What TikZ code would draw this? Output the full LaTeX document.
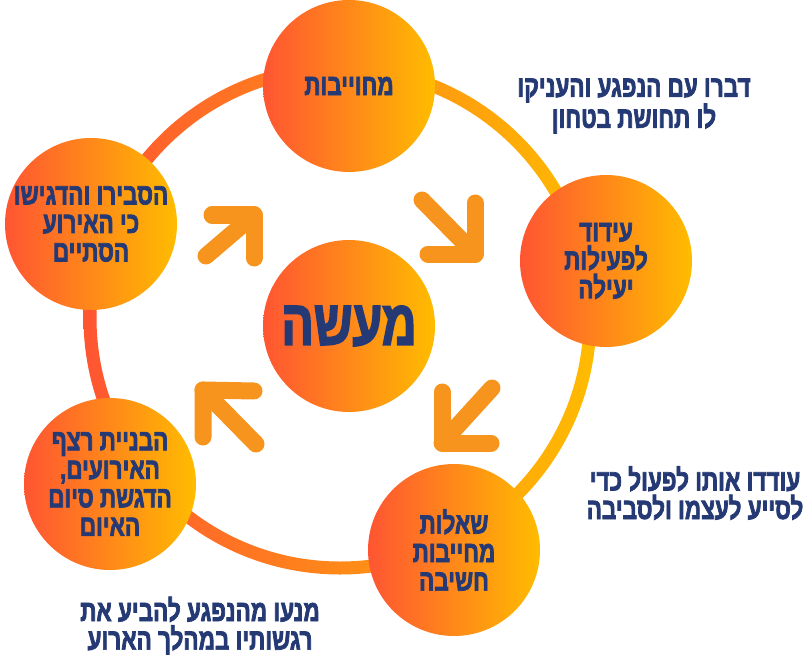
\documentclass[tikz,border=0pt]{standalone}
\usepackage{fontspec}
\usepackage{xcolor}
\usetikzlibrary{positioning}

\TeXXeTstate=1
\newfontfamily\hebfont[Script=Hebrew,FakeStretch=0.75,BoldFeatures={FakeBold=2.4}]{Liberation Sans}
\newcommand{\hebline}[1]{\beginR #1\endR}

\definecolor{navy}{RGB}{37,58,116}
\definecolor{flame}{RGB}{255,85,50}
\definecolor{amber}{RGB}{255,188,0}
\definecolor{carrot}{RGB}{247,148,29}

\tikzset{
	bubble/.style={circle, minimum size=172pt, inner sep=0pt, left color=flame, right color=amber,
		text=navy, align=center, font=\hebfont\bfseries\fontsize{30}{28.5}\selectfont},
	note/.style={inner sep=0pt, text=navy, align=center, font=\hebfont\bfseries\fontsize{30}{28.5}\selectfont},
	fat/.style={draw=carrot, line width=17pt, line cap=round, line join=round}
}

\begin{document}
\begin{tikzpicture}[x=1pt,y=-1pt]

\useasboundingbox (0,0) rectangle (808,655);

% ------------------------------------------------------
% the big ring behind the bubbles

\coordinate (ringc) at (340,318);
\path[left color=flame, right color=amber, even odd rule]
	(ringc) circle [radius=256.5pt] (ringc) circle [radius=243.5pt];

% ------------------------------------------------------
% bubbles

\node[bubble] (top) at (349,86) {\hebline{מחוייבות}};

\node[bubble] (right) at (606,261) {\hebline{עידוד}\\\hebline{לפעילות}\\\hebline{יעילה}};

\node[bubble] (bottom) at (454,550) {\hebline{שאלות}\\\hebline{מחייבות}\\\hebline{חשיבה}};

\node[bubble] (lowleft) at (110,484) {\hebline{הבניית רצף}\\\hebline{האירועים,}\\\hebline{הדגשת סיום}\\\hebline{האיום}};

\node[bubble] (left) at (91,224) {\hebline{הסבירו והדגישו}\\\hebline{כי האירוע}\\\hebline{הסתיים}};

\node[bubble, font=\hebfont\bfseries\fontsize{64}{64}\selectfont] (deed) at (349,326) {\hebline{מעשה}};

% ------------------------------------------------------
% fat arrows round the middle

\def \fatarrow(#1)(#2)(#3)(#4){
	\draw[fat] (#4)--(#1);
	\draw[fat] (#2)--(#1)--(#3);
}

\fatarrow(254,215)(212,215)(254,258)(206,256)

\fatarrow(475,254)(475,203)(428,254)(422,200)

\fatarrow(442,443)(491,443)(442,392)(492,388)

\fatarrow(203,390)(254,391)(203,437)(256,444)

% ------------------------------------------------------
% notes outside the ring

\node[note] (noteA) at (634,106) {\hebline{דברו עם הנפגע והעניקו}\\\hebline{לו תחושת בטחון}};

\node[note] (noteB) at (695,493) {\hebline{עודדו אותו לפעול כדי}\\\hebline{לסייע לעצמו ולסביבה}};

\node[note] (noteC) at (200,626) {\hebline{מנעו מהנפגע להביע את}\\\hebline{רגשותיו במהלך הארוע}};

\end{tikzpicture}
\end{document}
